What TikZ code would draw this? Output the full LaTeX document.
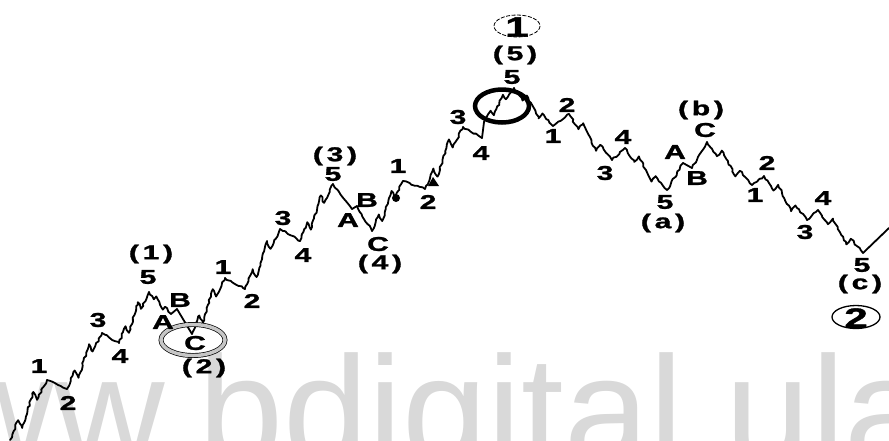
\documentclass[tikz,border=0pt]{standalone}
\usepackage{graphicx}
\usepackage{fontspec}
\setmainfont{Liberation Sans}
\newfontfamily\lblfont[BoldFeatures={FakeBold=1.2}]{Liberation Sans}
\usetikzlibrary{decorations.pathmorphing,calc}
\newcommand\wlbl[1]{\scalebox{1.5}[1]{#1}}
\newcommand\plbl[1]{\scalebox{1.5}[1]{(\kern2.5pt#1\kern2.5pt)}}
\newcommand\imp[2]{%
 \coordinate (ux1) at ($(#1)!.22!(#2)$); \coordinate (uy1) at ($(#1)!.33!(#2)$);
 \coordinate (ux2) at ($(#1)!.33!(#2)$); \coordinate (uy2) at ($(#1)!.20!(#2)$);
 \coordinate (ux3) at ($(#1)!.63!(#2)$); \coordinate (uy3) at ($(#1)!.80!(#2)$);
 \coordinate (ux4) at ($(#1)!.73!(#2)$); \coordinate (uy4) at ($(#1)!.67!(#2)$);
 \draw[jag] (#1) -- (ux1|-uy1) -- (ux2|-uy2) -- (ux3|-uy3) -- (ux4|-uy4) -- (#2);}
\begin{document}
\begin{tikzpicture}[x=1pt,y=-1pt,
  lbl/.style={inner sep=0pt, font=\lblfont\bfseries\fontsize{20}{20}\selectfont},
  big/.style={inner sep=0pt, font=\lblfont\bfseries\fontsize{28}{28}\selectfont},
  wave/.style={line width=1.8pt, line join=round, line cap=round},
  jag/.style={wave, decorate, decoration={random steps, segment length=3pt, amplitude=0.9pt}},
]
\useasboundingbox (0,0) rectangle (889,440);
\begin{scope}
\clip (0,0) rectangle (889,440);
\node[anchor=base west, inner sep=0pt, text=gray!30, font=\fontsize{153}{153}\selectfont] (wm) at (-167,463) {www.bdigital.ula.ve};
\end{scope}
% wave points
\coordinate (s0) at (10,440);
\coordinate (a1) at (47,380); \coordinate (a2) at (67,389); \coordinate (a3) at (102,333);
\coordinate (a4) at (119,343); \coordinate (a5) at (149,292);
\coordinate (aA) at (171,314); \coordinate (aB) at (177,309); \coordinate (aC) at (192,334);
\coordinate (b1) at (225,278); \coordinate (b2) at (245,289); \coordinate (b3) at (280,229);
\coordinate (b4) at (300,241); \coordinate (b5) at (333,184);
\coordinate (bA) at (352,209); \coordinate (bB) at (357,206); \coordinate (bC) at (372,231);
\coordinate (c1) at (403,181); \coordinate (c2) at (425,189); \coordinate (c3) at (463,127);
\coordinate (c4) at (482,138); \coordinate (c4u) at (484,122); \coordinate (c5) at (514,88);
\coordinate (d1) at (553,126); \coordinate (d2) at (569,114); \coordinate (d3) at (612,160);
\coordinate (d4) at (625,148); \coordinate (d5) at (667,190);
\coordinate (eA) at (683,163); \coordinate (eB) at (692,168); \coordinate (eC) at (707,142);
\coordinate (f1) at (752,185); \coordinate (f2) at (764,176); \coordinate (f3) at (807,220);
\coordinate (f4) at (818,210); \coordinate (f5) at (863,253); \coordinate (fe) at (889,228);
% legs
\imp{s0}{a1} \draw[jag] (a1) -- (a2); \imp{a2}{a3}
\draw[jag] (a3) -- (a4); \imp{a4}{a5} \imp{a5}{aA}
\draw[wave] (aA) -- (aB); \draw[wave] (aB) -- (aC);
\imp{aC}{b1} \draw[jag] (b1) -- (b2); \imp{b2}{b3}
\draw[jag] (b3) -- (b4); \imp{b4}{b5} \draw[jag] (b5) -- (bA);
\draw[wave] (bA) -- (bB); \draw[jag] (bB) -- (bC);
\imp{bC}{c1} \draw[jag] (c1) -- (c2); \imp{c2}{c3}
\draw[jag] (c3) -- (c4); \draw[wave] (c4) -- (c4u); \imp{c4u}{c5}
\imp{c5}{d1} \draw[jag] (d1) -- (d2); \imp{d2}{d3}
\draw[jag] (d3) -- (d4); \imp{d4}{d5}
\draw[jag] (d5) -- (eA); \draw[wave] (eA) -- (eB); \draw[jag] (eB) -- (eC);
\imp{eC}{f1} \draw[jag] (f1) -- (f2); \imp{f2}{f3}
\draw[jag] (f3) -- (f4); \imp{f4}{f5} \draw[wave] (f5) -- (fe);
% dots
\coordinate (dt1) at (396,198);
\fill (dt1) circle (4);
\coordinate (t1) at (428,186); \coordinate (t2) at (433,177); \coordinate (t3) at (439,186);
\fill (t1) -- (t2) -- (t3) -- cycle;
% circles
\coordinate (ringC) at (193,340);
\draw[line width=0.7pt, double=gray!45, double distance=3.5pt] (ringC) ellipse [x radius=32, y radius=15.5];
\coordinate (ringT) at (502,106);
\draw[line width=4.5pt] (ringT) ellipse [x radius=27, y radius=16.5];
\coordinate (ring1) at (517,26);
\draw[line width=0.8pt, dash pattern=on 4pt off 1.5pt] (ring1) ellipse [x radius=23, y radius=11];
\coordinate (ring2) at (856,317);
\draw[line width=1.3pt] (ring2) ellipse [x radius=24, y radius=11.5];
\node[big] (n1) at (517,27) {\wlbl{1}};
\node[big] (n2) at (856,318) {\wlbl{2}};
% labels
\node[lbl] (l1) at (39,366) {\wlbl{1}};
\node[lbl] (l2) at (68,403) {\wlbl{2}};
\node[lbl] (l3) at (98,320) {\wlbl{3}};
\node[lbl] (l4) at (120,356) {\wlbl{4}};
\node[lbl] (l5) at (148,277) {\wlbl{5}};
\node[lbl] (lp1) at (151,254) {\plbl{1}};
\node[lbl] (lA1) at (163,322) {\wlbl{A}};
\node[lbl] (lB1) at (180,300) {\wlbl{B}};
\node[lbl] (lC1) at (195,343) {\wlbl{C}};
\node[lbl] (lp2) at (204,368) {\plbl{2}};
\node[lbl] (m1) at (223,267) {\wlbl{1}};
\node[lbl] (m2) at (252,301) {\wlbl{2}};
\node[lbl] (m3) at (283,218) {\wlbl{3}};
\node[lbl] (m4) at (303,255) {\wlbl{4}};
\node[lbl] (m5) at (333,174) {\wlbl{5}};
\node[lbl] (lp3) at (335,156) {\plbl{3}};
\node[lbl] (lA2) at (348,220) {\wlbl{A}};
\node[lbl] (lB2) at (367,200) {\wlbl{B}};
\node[lbl] (lC2) at (378,244) {\wlbl{C}};
\node[lbl] (lp4) at (380,264) {\plbl{4}};
\node[lbl] (k1) at (398,166) {\wlbl{1}};
\node[lbl] (k2) at (428,202) {\wlbl{2}};
\node[lbl] (k3) at (458,117) {\wlbl{3}};
\node[lbl] (k4) at (481,153) {\wlbl{4}};
\node[lbl] (k5) at (512,77) {\wlbl{5}};
\node[lbl] (lp5) at (515,55) {\plbl{5}};
\node[lbl] (q1) at (553,136) {\wlbl{1}};
\node[lbl] (q2) at (567,105) {\wlbl{2}};
\node[lbl] (q3) at (605,173) {\wlbl{3}};
\node[lbl] (q4) at (623,137) {\wlbl{4}};
\node[lbl] (q5) at (665,202) {\wlbl{5}};
\node[lbl] (lpa) at (663,223) {\plbl{a}};
\node[lbl] (lA3) at (675,152) {\wlbl{A}};
\node[lbl] (lB3) at (697,178) {\wlbl{B}};
\node[lbl] (lC3) at (705,130) {\wlbl{C}};
\node[lbl] (lpb) at (701,110) {\plbl{b}};
\node[lbl] (r1) at (755,195) {\wlbl{1}};
\node[lbl] (r2) at (767,163) {\wlbl{2}};
\node[lbl] (r3) at (805,232) {\wlbl{3}};
\node[lbl] (r4) at (823,198) {\wlbl{4}};
\node[lbl] (r5) at (862,265) {\wlbl{5}};
\node[lbl] (lpc) at (860,284) {\plbl{c}};
\end{tikzpicture}
\end{document}
